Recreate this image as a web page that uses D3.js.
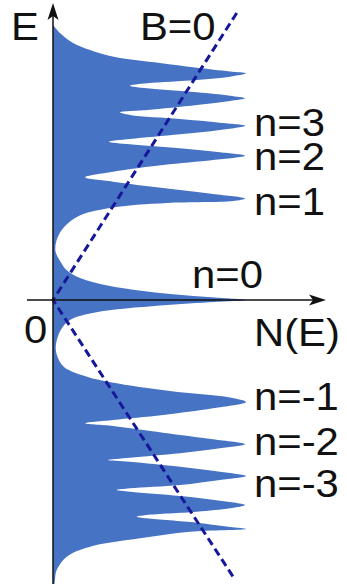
<!DOCTYPE html>
<html>
<head>
<meta charset="utf-8">
<script src="https://cdn.jsdelivr.net/npm/d3@7/dist/d3.min.js"></script>
<style>
  html, body { margin: 0; padding: 0; background: #fff; }
  svg { display: block; }
  text { font-family: "Liberation Sans", Arial, Helvetica, sans-serif; fill: #111; }
</style>
</head>
<body>
<svg id="chart" width="347" height="584"></svg>
<script>
// Density of states of graphene in a magnetic field: Landau-level spikes
// at E_n, compared with the linear B=0 density of states (dashed).

// Outline of N(E), sampled from top (E > 0) to bottom (E < 0)
const dosEnergy = [
  2.75, 2.67, 2.57, 2.50, 2.43, 2.37, 2.325, 2.285, 2.267,
  2.233, 2.200, 2.167, 2.143, 2.117, 2.077, 2.043, 2.017,
  1.990, 1.950, 1.900, 1.877, 1.850, 1.810, 1.773, 1.743,
  1.700, 1.657, 1.610, 1.583, 1.557, 1.517, 1.477, 1.443,
  1.400, 1.350, 1.283, 1.227, 1.183, 1.120, 1.060, 1.015,
  0.990, 0.970, 0.920, 0.830, 0.670, 0.500,
  0.380, 0.300, 0.220, 0.140, 0.060, 0.025, 0.000,
  -0.020, -0.055, -0.125, -0.200, -0.300, -0.450,
  -0.550, -0.670, -0.770, -0.825, -0.910, -0.975, -1.020,
  -1.083, -1.150, -1.200, -1.233, -1.260, -1.327, -1.393, -1.443,
  -1.483, -1.533, -1.577, -1.600, -1.617, -1.667, -1.717, -1.760,
  -1.800, -1.850, -1.883, -1.900, -1.917, -1.960, -2.007, -2.050,
  -2.083, -2.117, -2.150, -2.167, -2.183, -2.227, -2.270, -2.290,
  -2.317, -2.383, -2.467, -2.567, -2.700, -2.800, -2.900
];
const dosDensity = [
  0.000, 0.036, 0.104, 0.192, 0.321, 0.554, 0.736, 0.917, 1.000,
  0.917, 0.746, 0.487, 0.399, 0.487, 0.746, 0.917, 0.995,
  0.917, 0.746, 0.487, 0.347, 0.399, 0.658, 0.865, 0.995,
  0.865, 0.658, 0.399, 0.290, 0.399, 0.658, 0.865, 0.995,
  0.829, 0.570, 0.311, 0.166, 0.311, 0.570, 0.829, 0.995,
  0.933, 0.591, 0.295, 0.124, 0.035, 0.012,
  0.040, 0.070, 0.140, 0.295, 0.606, 0.839, 1.000,
  0.839, 0.554, 0.218, 0.088, 0.040, 0.015,
  0.020, 0.057, 0.181, 0.306, 0.606, 0.917, 1.000,
  0.829, 0.570, 0.311, 0.166, 0.311, 0.570, 0.829, 0.995,
  0.865, 0.658, 0.399, 0.285, 0.399, 0.658, 0.865, 1.000,
  0.865, 0.658, 0.399, 0.330, 0.399, 0.658, 0.865, 0.995,
  0.917, 0.745, 0.485, 0.434, 0.485, 0.745, 0.917, 1.000,
  0.710, 0.451, 0.192, 0.071, 0.019, 0.010, 0.005
];

// Landau levels that carry a label, and their energies
const levelNames  = ["n=3", "n=2", "n=1", "n=0", "n=-1", "n=-2", "n=-3"];
const levelEnergy = [1.743, 1.443, 1.015, 0.000, -1.020, -1.443, -1.760];

// B = 0 reference: N(E) proportional to |E|
const b0Energy  = [2.87, 0, -2.77];
const b0Density = [0.952, 0, 0.934];

// Axis titles and origin label
const axisLabels = { y: "E", x: "N(E)", origin: "0", reference: "B=0" };

const W = 347, H = 584;
const svg = d3.select("#chart");

const yScale = d3.scaleLinear().domain([3, -2.84]).range([0, H]);
const xScale = d3.scaleLinear().domain([0, 1]).range([53, 246]);

const blue = "#4673c3";

// Filled density of states
const dos = dosEnergy.map((e, i) => ({ e, n: dosDensity[i] }));
const area = d3.area()
  .y(d => yScale(d.e))
  .x0(xScale(0))
  .x1(d => xScale(d.n))
  .curve(d3.curveCatmullRom.alpha(0.5));
svg.append("path")
  .datum(dos)
  .attr("d", area)
  .attr("fill", blue);

// Dashed B=0 line
const b0 = b0Energy.map((e, i) => ({ e, n: b0Density[i] }));
svg.append("path")
  .datum(b0)
  .attr("d", d3.line().x(d => xScale(d.n)).y(d => yScale(d.e)))
  .attr("fill", "none")
  .attr("stroke", "#17179a")
  .attr("stroke-width", 3)
  .attr("stroke-dasharray", "8,4.5");

// Axes with arrowheads
const x0 = xScale(0), y0 = yScale(0);
const yTop = 3, xRight = 326;
svg.append("line")
  .attr("x1", x0).attr("x2", x0)
  .attr("y1", H).attr("y2", yTop + 10)
  .attr("stroke", "#111").attr("stroke-width", 1.5);
svg.append("line")
  .attr("x1", 27).attr("x2", xRight - 10)
  .attr("y1", y0).attr("y2", y0)
  .attr("stroke", "#111").attr("stroke-width", 1.5);

function arrowHead(tipX, tipY, dir) {
  const len = 17, half = 5.5, back = 4;
  if (dir === "up") {
    return `M${tipX},${tipY} L${tipX + half},${tipY + len} L${tipX},${tipY + len - back} L${tipX - half},${tipY + len} Z`;
  }
  return `M${tipX},${tipY} L${tipX - len},${tipY - half} L${tipX - len + back},${tipY} L${tipX - len},${tipY + half} Z`;
}
svg.append("path").attr("d", arrowHead(x0, yTop, "up")).attr("fill", "#111");
svg.append("path").attr("d", arrowHead(xRight, y0, "right")).attr("fill", "#111");

// Text, set slightly wide
const fs = 38, stretch = 1.1;
const label = (txt, x, y) => svg.append("text")
  .attr("transform", `translate(${x},${y}) scale(${stretch},1)`)
  .attr("font-size", fs)
  .text(txt);

label(axisLabels.y, 11, 40);
label(axisLabels.reference, 140, 40);
label(axisLabels.origin, 24, 343);
label(axisLabels.x, 254, 346);

// Level labels sit beside their spikes; n=0 sits above the axis
const labelShift = { "n=3": 10, "n=2": 14, "n=1": 16, "n=0": -12, "n=-1": 8, "n=-2": 11, "n=-3": 21 };
levelNames.forEach((name, i) => {
  const x = name === "n=0" ? 192 : 254;
  label(name, x, yScale(levelEnergy[i]) + labelShift[name]);
});
</script>
</body>
</html>
